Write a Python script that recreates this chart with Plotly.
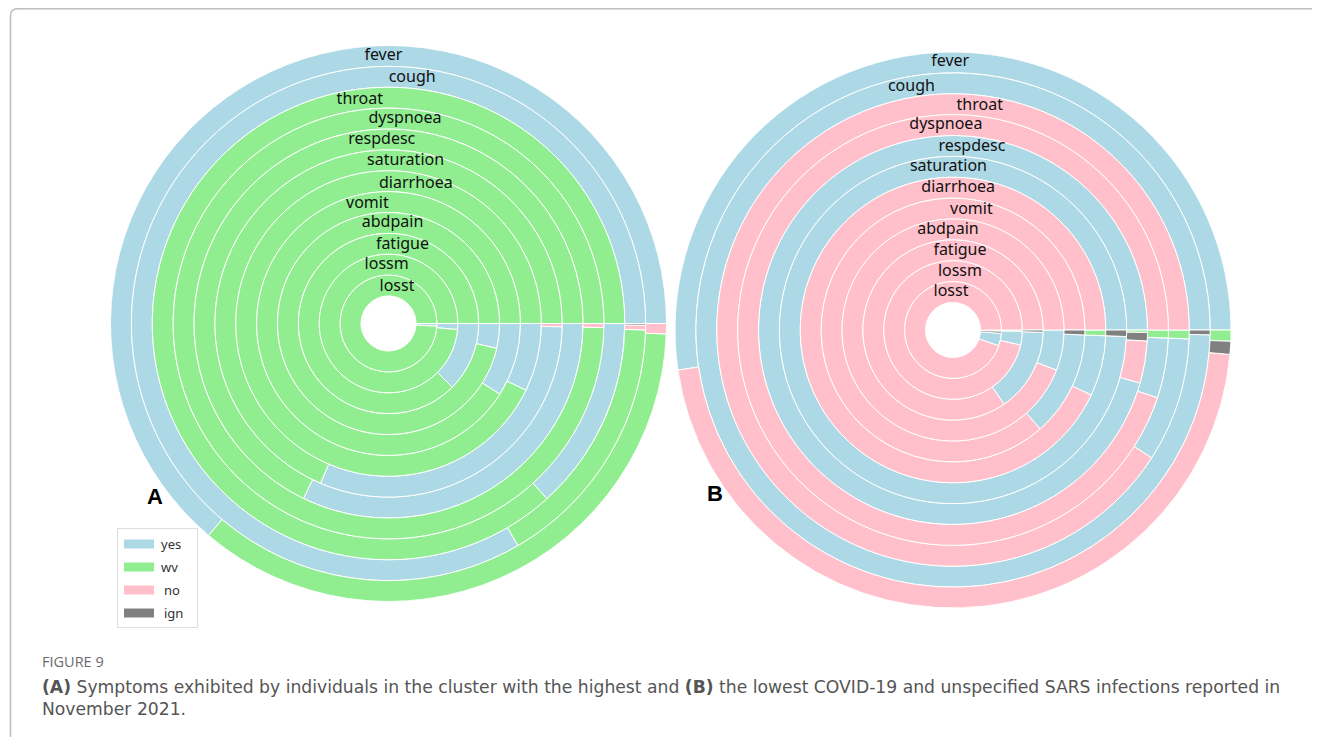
import plotly.graph_objects as go

W, H = 1320, 737
OFF = 8  # the page body adds an 8px margin; reference pixel coords are shifted by this

# ---------------- data ----------------
symptoms = ["fever", "cough", "throat", "dyspnoea", "respdesc", "saturation",
            "diarrhoea", "vomit", "abdpain", "fatigue", "lossm", "losst"]
categories = ["yes", "wv", "no", "ign"]

# Panel A: cluster with the highest infections (percent of individuals)
a_yes = [63.8, 83.4, 13.3, 0.0, 32.2, 31.1, 7.2, 9.0, 3.6, 12.5, 1.4, 0.9]
a_wv = [35.6, 16.2, 86.7, 99.7, 67.8, 68.6, 92.8, 91.0, 96.4, 87.5, 98.6, 99.1]
a_no = [0.6, 0.3, 0.0, 0.3, 0.0, 0.3, 0.0, 0.0, 0.0, 0.0, 0.0, 0.0]
a_ign = [0.0, 0.1, 0.0, 0.0, 0.0, 0.0, 0.0, 0.0, 0.0, 0.0, 0.0, 0.0]

# Panel B: cluster with the lowest infections (percent of individuals)
b_yes = [52.3, 99.7, 8.5, 4.5, 95.6, 99.4, 6.4, 12.9, 5.9, 15.0, 3.2, 4.2]
b_wv = [0.65, 0.0, 0.6, 0.6, 0.2, 0.0, 0.6, 0.0, 0.0, 0.0, 0.3, 0.4]
b_no = [46.3, 0.0, 90.9, 94.9, 3.5, 0.0, 93.0, 86.5, 94.1, 84.6, 96.5, 94.7]
b_ign = [0.75, 0.3, 0.0, 0.0, 0.7, 0.6, 0.0, 0.6, 0.0, 0.4, 0.0, 0.7]

# ---------------- styles / layout constants ----------------
colors = {"yes": "#ADD8E6", "wv": "#90EE90", "no": "#FFC0CB", "ign": "#808080"}
label_angle_a = [91.1, 84.5, 97.3, 85.4, 92.1, 84.0, 78.9, 100.0, 87.7, 79.9, 91.8, 77.1]
label_angle_b = [90.6, 99.7, 83.2, 92.0, 84.1, 91.6, 87.9, 81.3, 92.9, 85.0, 83.2, 93.0]
R_OUT, R_HOLE = 278.0, 27.5
n_rings = len(symptoms)


def px(x):
    return (x - OFF) / W


def py(y):
    return 1 - (y - OFF) / H


def ring_bars(values):
    """values: dict cat -> list per symptom. Returns per-category bar lists."""
    out = {c: dict(theta=[], width=[], base=[], text=[]) for c in categories}
    for i, s in enumerate(symptoms):
        ring = n_rings - 1 - i  # fever outermost
        vals = [(c, values[c][i]) for c in categories]
        total = sum(v for _, v in vals)
        vals = sorted([cv for cv in vals if cv[1] > 0], key=lambda cv: -cv[1])
        start = 0.0
        for c, v in vals:
            w = 360.0 * v / total
            out[c]["theta"].append(start + w / 2)
            out[c]["width"].append(w)
            out[c]["base"].append(ring)
            out[c]["text"].append(s)
            start += w
    return out


fig = go.Figure()

panels = [
    ("polar", {"yes": a_yes, "wv": a_wv, "no": a_no, "ign": a_ign}, label_angle_a),
    ("polar2", {"yes": b_yes, "wv": b_wv, "no": b_no, "ign": b_ign}, label_angle_b),
]

for sub, vals, angles in panels:
    bars = ring_bars(vals)
    for c in categories:
        b = bars[c]
        if not b["theta"]:
            continue
        fig.add_trace(go.Barpolar(
            r=[1] * len(b["theta"]), base=b["base"], theta=b["theta"], width=b["width"],
            marker=dict(color=colors[c], line=dict(color="white", width=1)),
            name=c, subplot=sub, showlegend=False, hovertext=b["text"],
        ))
    fig.add_trace(go.Scatterpolar(
        r=[n_rings - 1 - i + 0.5 for i in range(n_rings)], theta=angles,
        mode="text", text=symptoms, subplot=sub, showlegend=False,
        textfont=dict(family="Noto Sans", size=16, color="#111111"),
        hoverinfo="skip",
    ))

# polar domains (square in pixels)
cxA, cyA = 388.5, 323.5
cxB, cyB = 953.0, 330.0
common = dict(
    hole=R_HOLE / R_OUT,
    bgcolor="rgba(0,0,0,0)",
    radialaxis=dict(range=[0, n_rings], visible=False, showgrid=False),
    angularaxis=dict(direction="counterclockwise", rotation=0, visible=False, showgrid=False),
    barmode="overlay",
)
fig.update_layout(
    polar=dict(domain=dict(x=[px(cxA - R_OUT), px(cxA + R_OUT)], y=[py(cyA + R_OUT), py(cyA - R_OUT)]), **common),
    polar2=dict(domain=dict(x=[px(cxB - R_OUT), px(cxB + R_OUT)], y=[py(cyB + R_OUT), py(cyB - R_OUT)]), **common),
)

shapes = []
annotations = []

# outer frame with rounded top-left corner
fx, fy, rr = 10.5, 8.75, 7
frame_path = (f"M {px(fx)},{py(760)} L {px(fx)},{py(fy + rr)} "
              f"Q {px(fx)},{py(fy)} {px(fx + rr)},{py(fy)} L {px(1340)},{py(fy)}")
shapes.append(dict(type="path", xref="paper", yref="paper", path=frame_path,
                   line=dict(color="#bdbdbd", width=1.5)))

# legend box
lx0, ly0, lx1, ly1 = 117.5, 528.5, 197.5, 627.5
shapes.append(dict(type="rect", xref="paper", yref="paper",
                   x0=px(lx0), x1=px(lx1), y0=py(ly1), y1=py(ly0),
                   line=dict(color="#dddddd", width=1), fillcolor="white"))
leg_y = [544, 567, 590, 613]
for c, yy in zip(categories, leg_y):
    shapes.append(dict(type="rect", xref="paper", yref="paper",
                       x0=px(124), x1=px(154), y0=py(yy + 4.5), y1=py(yy - 4.5),
                       line=dict(width=0), fillcolor=colors[c]))
    annotations.append(dict(xref="paper", yref="paper", x=px(159 if c in ("yes", "wv") else 162), y=py(yy),
                            xanchor="left", yanchor="middle", showarrow=False, text=c,
                            font=dict(family="Noto Sans", size=13, color="#333333")))

# panel letters
annotations.append(dict(xref="paper", yref="paper", x=px(145), y=py(511), showarrow=False,
                        text="<b>A</b>", font=dict(family="Liberation Sans", size=22, color="#000000")))
annotations.append(dict(xref="paper", yref="paper", x=px(715), y=py(508), showarrow=False,
                        text="<b>B</b>", font=dict(family="Liberation Sans", size=22, color="#000000")))

# caption
annotations.append(dict(xref="paper", yref="paper", x=px(40), y=py(661), xanchor="left", yanchor="middle",
                        showarrow=False, text="FIGURE 9",
                        font=dict(family="Open Sans", size=14.5, color="#6b6b6b")))
annotations.append(dict(xref="paper", yref="paper", x=px(40), y=py(697.5), xanchor="left", yanchor="middle",
                        align="left", showarrow=False,
                        text="<b>(A)</b> Symptoms exhibited by individuals in the cluster with the highest and "
                             "<b>(B)</b> the lowest COVID-19 and unspecified SARS infections reported in"
                             "<br>November 2021.",
                        font=dict(family="DejaVu Sans", size=17.2, color="#555555")))

fig.update_layout(
    width=W, height=H, margin=dict(l=0, r=0, t=0, b=0),
    paper_bgcolor="white", plot_bgcolor="white",
    showlegend=False, shapes=shapes, annotations=annotations,
)

fig.write_html("out.html")
